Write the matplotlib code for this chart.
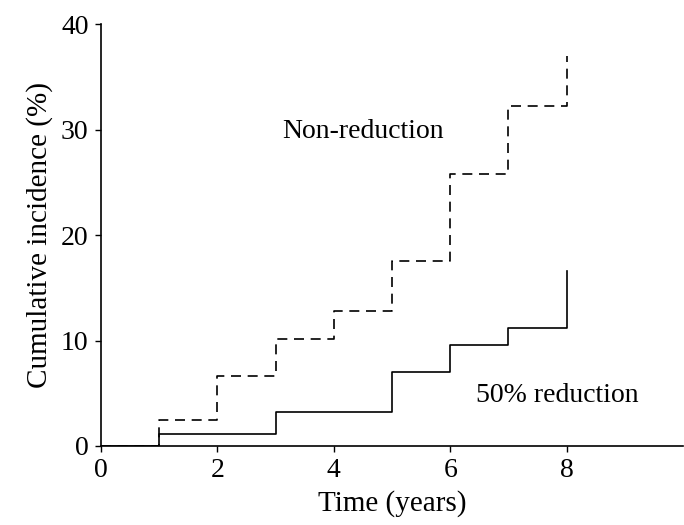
import matplotlib
matplotlib.use("Agg")
import matplotlib.pyplot as plt

# years since start and cumulative incidence (%)
years = [0, 1, 2, 3, 4, 5, 6, 7, 8]
non_reduction = [0, 2.5, 6.6, 10.1, 12.8, 17.5, 25.8, 32.2, 37.0]
half_reduction = [0, 1.1, 1.1, 3.2, 3.2, 7.0, 9.6, 11.2, 16.6]

x_ticks = [0, 2, 4, 6, 8]
y_ticks = [0, 10, 20, 30, 40]

plt.rcParams['font.family'] = ['Liberation Serif', 'DejaVu Serif']

fig = plt.figure(figsize=(6.84, 5.25), dpi=100)
ax = fig.add_axes([0.1477, 0.1505, 0.851, 0.8035])

ax.step(years, non_reduction, where='post', c='black', lw=1.2,
        ls=(0, (6, 4)))
ax.step(years, half_reduction, where='post', c='black', lw=1.2)

ax.text(3.12, 29.8, "Non-reduction", fontsize=20, va='center')
ax.text(6.44, 4.8, "50% reduction", fontsize=20, va='center')

ax.set_xlim(0, 10)
ax.set_ylim(0, 40)
ax.set_xticks(x_ticks)
ax.set_yticks(y_ticks)
ax.tick_params(direction='out', length=4, width=1, labelsize=20, pad=5)

for side in ['top', 'right']:
    ax.spines[side].set_visible(False)
for side in ['left', 'bottom']:
    ax.spines[side].set_linewidth(1.2)

ax.set_xlabel('Time (years)', fontsize=21, labelpad=5)
ax.set_ylabel('Cumulative incidence (%)', fontsize=21, labelpad=6)

fig.savefig('out.png', dpi=100)
